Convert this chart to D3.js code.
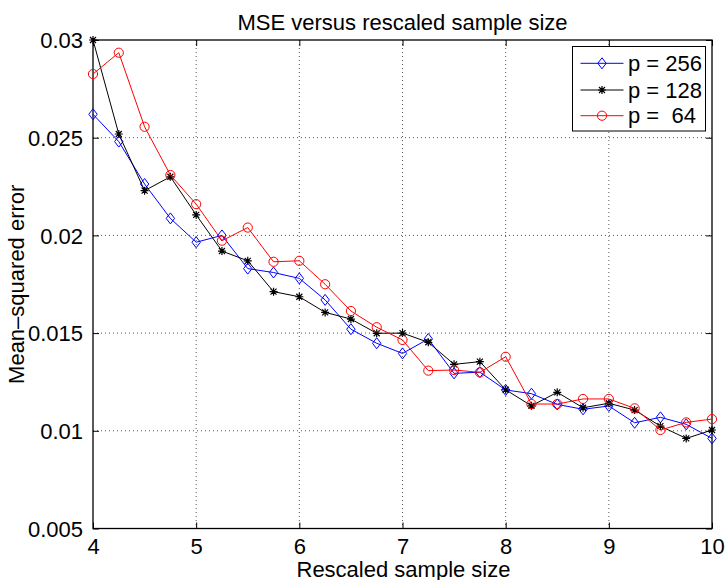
<!DOCTYPE html>
<html>
<head>
<meta charset="utf-8">
<script src="https://cdn.jsdelivr.net/npm/d3@7"></script>
<style>
  html, body { margin: 0; padding: 0; background: #fff; }
  svg { display: block; font-family: "Liberation Sans", Arial, Helvetica, sans-serif; }
  text { white-space: pre; }
</style>
</head>
<body>
<svg id="chart" width="727" height="580"></svg>
<script>
const sampleSizes = [4, 4.25, 4.5, 4.75, 5, 5.25, 5.5, 5.75, 6, 6.25, 6.5, 6.75, 7, 7.25, 7.5, 7.75, 8, 8.25, 8.5, 8.75, 9, 9.25, 9.5, 9.75, 10];
const mseP256 = [0.0262, 0.0248, 0.02263, 0.02087, 0.01965, 0.0200, 0.0183, 0.0181, 0.0178, 0.0167, 0.0152, 0.01448, 0.01396, 0.0147, 0.01294, 0.0130, 0.01209, 0.0119, 0.01135, 0.0111, 0.01127, 0.01041, 0.01069, 0.01033, 0.00961];
const mseP128 = [0.0300, 0.02519, 0.02229, 0.0230, 0.02105, 0.0192, 0.0187, 0.01712, 0.01686, 0.01606, 0.01572, 0.01499, 0.0150, 0.01453, 0.0134, 0.01354, 0.0121, 0.01128, 0.01197, 0.01118, 0.01141, 0.01106, 0.01024, 0.00961, 0.01004];
const mseP64 = [0.02826, 0.02935, 0.02556, 0.02309, 0.0216, 0.01973, 0.0204, 0.01865, 0.0187, 0.0175, 0.01613, 0.0153, 0.01465, 0.01308, 0.01311, 0.01299, 0.01379, 0.01137, 0.01137, 0.01163, 0.01163, 0.01115, 0.01004, 0.01043, 0.0106];
const xTicks = [4, 5, 6, 7, 8, 9, 10];
const yTicks = [0.005, 0.01, 0.015, 0.02, 0.025, 0.03];
const yTickLabels = ["0.005", "0.01", "0.015", "0.02", "0.025", "0.03"];
const seriesNames = ["p = 256", "p = 128", "p =  64"];
const seriesColors = ["#0000ff", "#000000", "#ff0000"];
const seriesMarkers = ["diamond", "star", "circle"];

const FS = 22;
const svg = d3.select("#chart");
const L = 93, R = 712, T = 40, B = 528.5;
const x = d3.scaleLinear().domain([4, 10]).range([L, R]);
const y = d3.scaleLinear().domain([0.005, 0.03]).range([B, T]);

// grid
const grid = svg.append("g");
grid.selectAll(".gx").data(xTicks.slice(1, -1)).enter().append("line")
  .attr("x1", d => x(d)).attr("x2", d => x(d)).attr("y1", T).attr("y2", B)
  .attr("stroke", "#555").attr("stroke-width", 1).attr("stroke-dasharray", "1,3");
grid.selectAll(".gy").data(yTicks.slice(1, -1)).enter().append("line")
  .attr("x1", L).attr("x2", R).attr("y1", d => y(d)).attr("y2", d => y(d))
  .attr("stroke", "#555").attr("stroke-width", 1).attr("stroke-dasharray", "1,3");

// axes (ticks inward)
const tl = 6;
const xAxisB = d3.axisBottom(x).tickValues(xTicks).tickSize(-tl).tickFormat(d3.format("d"));
const gxB = svg.append("g").attr("transform", `translate(0,${B})`).call(xAxisB);
const xAxisT = d3.axisTop(x).tickValues(xTicks).tickSize(-tl).tickFormat("");
const gxT = svg.append("g").attr("transform", `translate(0,${T})`).call(xAxisT);
const yAxisL = d3.axisLeft(y).tickValues(yTicks).tickSize(-tl).tickPadding(tl + 4).tickFormat((d, i) => yTickLabels[i]);
const gyL = svg.append("g").attr("transform", `translate(${L},0)`).call(yAxisL);
const yAxisR = d3.axisRight(y).tickValues(yTicks).tickSize(-tl).tickFormat("");
const gyR = svg.append("g").attr("transform", `translate(${R},0)`).call(yAxisR);
[gxB, gxT, gyL, gyR].forEach(g => {
  g.select(".domain").remove();
  g.selectAll("line").attr("stroke", "#000").attr("stroke-width", 1);
  g.selectAll("text").attr("font-size", FS).attr("fill", "#000")
    .attr("font-family", "'Liberation Sans', Arial, sans-serif");
});
gxB.selectAll("text").attr("dy", "0").attr("y", 25);
gyL.selectAll("text").attr("dy", "0.35em");

svg.append("rect").attr("x", L).attr("y", T).attr("width", R - L).attr("height", B - T)
  .attr("fill", "none").attr("stroke", "#000").attr("stroke-width", 1.3);

// series
const seriesData = [mseP256, mseP128, mseP64];
function drawMarker(g, type, color, cx, cy) {
  if (type === "diamond") {
    g.append("path").attr("d", `M${cx},${cy - 5.5}L${cx + 4.2},${cy}L${cx},${cy + 5.5}L${cx - 4.2},${cy}Z`)
      .attr("fill", "none").attr("stroke", color).attr("stroke-width", 1);
  } else if (type === "circle") {
    g.append("circle").attr("cx", cx).attr("cy", cy).attr("r", 4.6)
      .attr("fill", "none").attr("stroke", color).attr("stroke-width", 1);
  } else {
    const s = 4, d = 3;
    g.append("path").attr("d",
      `M${cx - s},${cy}L${cx + s},${cy}M${cx},${cy - s}L${cx},${cy + s}M${cx - d},${cy - d}L${cx + d},${cy + d}M${cx - d},${cy + d}L${cx + d},${cy - d}`)
      .attr("stroke", color).attr("stroke-width", 1.2);
  }
}
const line = d3.line().x((d, i) => x(sampleSizes[i])).y(d => y(d));
seriesData.forEach((vals, si) => {
  const g = svg.append("g");
  g.append("path").datum(vals).attr("d", line).attr("fill", "none")
    .attr("stroke", seriesColors[si]).attr("stroke-width", 1);
  vals.forEach((v, i) => drawMarker(g, seriesMarkers[si], seriesColors[si], x(sampleSizes[i]), y(v)));
});

// legend
const lg = svg.append("g");
lg.append("rect").attr("x", 572.5).attr("y", 46.5).attr("width", 133).attr("height", 84.5)
  .attr("fill", "#fff").attr("stroke", "#000").attr("stroke-width", 1);
const legY = [63.3, 90, 115.7];
seriesNames.forEach((n, i) => {
  lg.append("line").attr("x1", 580.5).attr("x2", 623.5).attr("y1", legY[i]).attr("y2", legY[i])
    .attr("stroke", seriesColors[i]).attr("stroke-width", 1);
  drawMarker(lg, seriesMarkers[i], seriesColors[i], 602, legY[i]);
  lg.append("text").attr("x", 628).attr("y", legY[i]).attr("dy", "0.35em")
    .attr("font-size", FS).text(n);
});

// titles
svg.append("text").attr("x", (L + R) / 2).attr("y", 30).attr("text-anchor", "middle")
  .attr("font-size", FS).text("MSE versus rescaled sample size");
svg.append("text").attr("x", (L + R) / 2 + 1).attr("y", 576.5).attr("text-anchor", "middle")
  .attr("font-size", FS).text("Rescaled sample size");
svg.append("text").attr("transform", `translate(24,${(T + B) / 2}) rotate(-90)`).attr("text-anchor", "middle")
  .attr("font-size", FS).text("Mean–squared error");
</script>
</body>
</html>
